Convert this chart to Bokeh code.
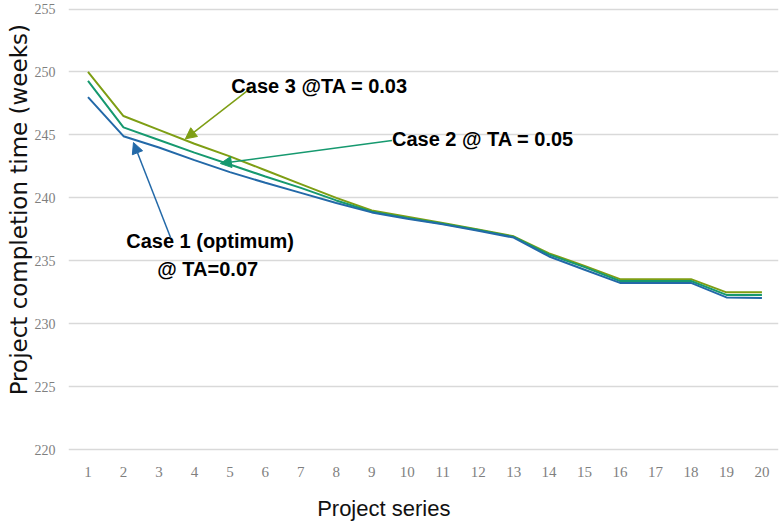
from bokeh.plotting import figure
from bokeh.models import Range1d, FixedTicker, Label, Arrow, NormalHead
from bokeh.embed import file_html
from bokeh.resources import INLINE

# ---- data ----
series = list(range(1, 21))
case3 = [250.0, 246.5, 245.4, 244.3, 243.3, 242.2, 241.1, 240.0, 239.0, 238.5,
         238.0, 237.5, 236.95, 235.6, 234.6, 233.55, 233.55, 233.55, 232.5, 232.5]
case2 = [249.3, 245.6, 244.6, 243.6, 242.65, 241.7, 240.8, 239.8, 238.9, 238.4,
         237.95, 237.45, 236.9, 235.5, 234.5, 233.4, 233.4, 233.4, 232.3, 232.3]
case1 = [248.0, 244.9, 244.0, 243.0, 242.05, 241.2, 240.4, 239.6, 238.85, 238.35,
         237.9, 237.4, 236.85, 235.35, 234.3, 233.25, 233.25, 233.25, 232.1, 232.05]
y_ticks = [220, 225, 230, 235, 240, 245, 250, 255]

c3_color = "#7E9E14"
c2_color = "#16996F"
c1_color = "#2369A8"

NB = "\u00a0"

p = figure(width=782, height=524, output_backend="svg", toolbar_location=None,
           x_range=Range1d(0.4502, 20.467), y_range=Range1d(219.547, 255.675),
           min_border_left=68, min_border_right=4, min_border_top=0, min_border_bottom=69)
p.outline_line_color = None
p.background_fill_color = "white"
p.border_fill_color = "white"

p.xgrid.visible = False
p.ygrid.grid_line_color = "#d9d9d9"
p.ygrid.grid_line_width = 1.5

p.yaxis.ticker = FixedTicker(ticks=y_ticks)
p.xaxis.ticker = FixedTicker(ticks=series)
for ax in (p.xaxis[0], p.yaxis[0]):
    ax.axis_line_color = None
    ax.major_tick_line_color = None
    ax.minor_tick_line_color = None
    ax.major_tick_out = 0
    ax.major_tick_in = 0
    ax.major_label_text_font = "Liberation Serif"
    ax.major_label_text_color = "#7f7f7f"
p.yaxis.major_label_text_font_size = "14px"
p.xaxis.major_label_text_font_size = "15px"
p.yaxis.major_label_standoff = 13
p.xaxis.major_label_standoff = 11

p.xaxis.axis_label = "Project series" + NB * 13
p.xaxis.axis_label_text_font = "Liberation Sans"
p.xaxis.axis_label_text_font_size = "22px"
p.xaxis.axis_label_text_font_style = "normal"
p.xaxis.axis_label_text_color = "#111111"
p.xaxis.axis_label_standoff = 16

p.yaxis.axis_label = NB * 5 + "Project completion time (weeks)"
p.yaxis.axis_label_text_font = "DejaVu Sans"
p.yaxis.axis_label_text_font_size = "23px"
p.yaxis.axis_label_text_font_style = "normal"
p.yaxis.axis_label_text_color = "#111111"
p.yaxis.axis_label_standoff = 0

p.line(series, case3, line_color=c3_color, line_width=2)
p.line(series, case2, line_color=c2_color, line_width=2)
p.line(series, case1, line_color=c1_color, line_width=2)

# arrows
p.add_layout(Arrow(x_start=5.625, y_start=248.79, x_end=3.746, y_end=244.69,
                   line_color=c3_color, line_width=1.5,
                   end=NormalHead(size=11, fill_color=c3_color, line_color=c3_color)))
p.add_layout(Arrow(x_start=9.569, y_start=244.56, x_end=4.732, y_end=242.73,
                   line_color=c2_color, line_width=1.5,
                   end=NormalHead(size=11, fill_color=c2_color, line_color=c2_color)))
p.add_layout(Arrow(x_start=3.324, y_start=236.88, x_end=2.282, y_end=244.40,
                   line_color=c1_color, line_width=1.5,
                   end=NormalHead(size=11, fill_color=c1_color, line_color=c1_color)))

def txt(x, y, s, align="left"):
    p.add_layout(Label(x=x, y=y, text=s, text_align=align, text_baseline="alphabetic",
                       text_font="Liberation Sans", text_font_size="20px",
                       text_font_style="bold", text_color="black"))

txt(5.042, 248.90, "Case 3 @TA = 0.03")
txt(9.569, 244.64, "Case 2 @ TA = 0.05")
txt(4.442, 236.57, "Case 1 (optimum)", align="center")
txt(4.375, 234.37, "@ TA=0.07", align="center")

open("out.html", "w").write(file_html(p, INLINE))
